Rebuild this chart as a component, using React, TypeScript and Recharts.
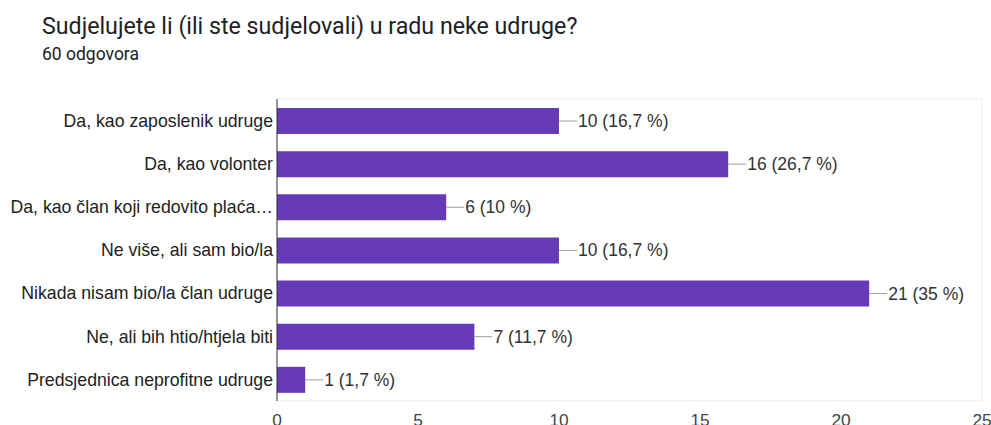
import React from 'react';
import { BarChart, Bar, XAxis, YAxis, CartesianGrid, LabelList } from 'recharts';

const categories = [
	'Da, kao zaposlenik udruge',
	'Da, kao volonter',
	'Da, kao član koji redovito plaća…',
	'Ne više, ali sam bio/la',
	'Nikada nisam bio/la član udruge',
	'Ne, ali bih htio/htjela biti',
	'Predsjednica neprofitne udruge',
];
const counts = [10, 16, 6, 10, 21, 7, 1];
const percents = ['16,7', '26,7', '10', '16,7', '35', '11,7', '1,7'];
const xTicks = [0, 5, 10, 15, 20, 25];
const gridTicks = [0, 2.5, 5, 7.5, 10, 12.5, 15, 17.5, 20, 22.5, 25];

const data = categories.map((name, i) => ({ name, count: counts[i], pct: percents[i] }));

const FONT = '"Liberation Sans", Arial, sans-serif';

const BarLabel = (props: any) => {
	const { x, y, width, height, index } = props;
	const endX = Number(x) + Number(width);
	const midY = Number(y) + Number(height) / 2;
	const d = data[index];
	return (
		<g>
			<line x1={endX} y1={midY} x2={endX + 18} y2={midY} stroke="#9e9e9e" strokeWidth={1} />
			<text
				x={endX + 19}
				y={midY}
				dominantBaseline="central"
				fill="#333"
				fontSize={17.5}
				fontFamily={FONT}
			>
				{`${d.count} (${d.pct} %)`}
			</text>
		</g>
	);
};

export default function App() {
	return (
		<div
			style={{
				position: 'absolute',
				left: 0,
				top: 0,
				width: 991,
				height: 425,
				background: '#fff',
				overflow: 'hidden',
			}}
		>
			<div
				style={{
					position: 'absolute',
					left: 42,
					top: 12,
					fontFamily: 'Roboto, sans-serif',
					fontSize: 23.2,
					lineHeight: 'normal',
					color: '#202124',
					whiteSpace: 'nowrap',
				}}
			>
				Sudjelujete li (ili ste sudjelovali) u radu neke udruge?
			</div>
			<div
				style={{
					position: 'absolute',
					left: 42,
					top: 44,
					fontFamily: 'Roboto, sans-serif',
					fontSize: 17.5,
					lineHeight: 'normal',
					color: '#202124',
					whiteSpace: 'nowrap',
				}}
			>
				60 odgovora
			</div>
			<div style={{ position: 'absolute', left: 0, top: 0 }}>
				<BarChart
					width={991}
					height={425}
					data={data}
					layout="vertical"
					margin={{ top: 99, right: 9, bottom: 0, left: 0 }}
				>
					<CartesianGrid
						xAxisId="grid"
						stroke="#ebebeb"
						horizontalCoordinatesGenerator={({ offset }: any) => [offset.top, offset.top + offset.height]}
					/>
					<XAxis xAxisId="grid" type="number" domain={[0, 25]} ticks={gridTicks} hide />
					<XAxis
						type="number"
						domain={[0, 25]}
						ticks={xTicks}
						axisLine={false}
						tickLine={false}
						tickSize={0}
						tickMargin={13}
						height={24}
						tick={{ fill: '#444', fontSize: 17.3, fontFamily: FONT }}
					/>
					<YAxis
						type="category"
						dataKey="name"
						width={277}
						interval={0}
						axisLine={{ stroke: '#333' }}
						tickLine={false}
						tickSize={0}
						tickMargin={4}
						tick={{ fill: '#222', fontSize: 17.7, fontFamily: FONT }}
					/>
					<Bar dataKey="count" fill="#673ab7" barSize={26} isAnimationActive={false}>
						<LabelList dataKey="count" content={BarLabel} />
					</Bar>
				</BarChart>
			</div>
		</div>
	);
}
